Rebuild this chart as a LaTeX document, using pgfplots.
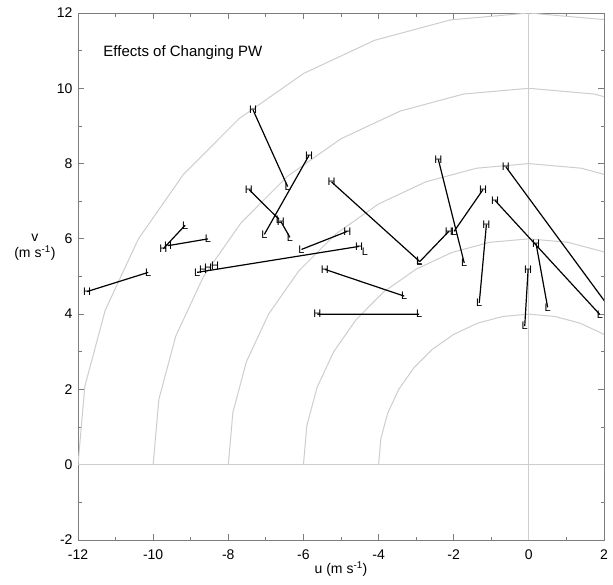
\documentclass[border=0pt]{standalone}
\usepackage{pgfplots}
\pgfplotsset{compat=1.18}
\usepackage{fontspec}
\setmainfont{Liberation Sans}
\definecolor{ring}{RGB}{205,205,205}
\definecolor{axgray}{RGB}{125,125,125}
\begin{document}
\begin{tikzpicture}
\begin{axis}[
  scale only axis, width=526bp, height=527bp,
  xmin=-12, xmax=2, ymin=-2, ymax=12,
  xtick={-12,-10,...,2}, ytick={-2,0,...,12},
  minor x tick num=1, minor y tick num=1,
  xtick pos=both, ytick pos=both,
  xticklabel pos=left, yticklabel pos=left,
  tick align=inside,
  major tick length=6bp, minor tick length=3.5bp,
  axis line style={axgray, line width=1bp},
  every tick/.style={axgray, line width=0.8bp},
  tick label style={font=\fontsize{14bp}{16bp}\selectfont, black},
  xticklabel style={yshift=-6bp},
  yticklabel style={xshift=-2bp},
  /pgf/number format/assume math mode=true,
  xlabel={u (m s\textsuperscript{-1})},
  xlabel style={font=\fontsize{14bp}{16bp}\selectfont, yshift=5bp},
  clip mode=individual,
]
% invisible frame for the page margins
\path (axis description cs:-0.1483,-0.0835) rectangle (axis description cs:1.0171,1.0247);
% range rings
\addplot[ring, line width=1bp] coordinates {(3.464,2) (3.064,2.571) (2.571,3.064) (2,3.464) (1.368,3.759) (0.695,3.939) (0,4) (-0.695,3.939) (-1.368,3.759) (-2,3.464) (-2.571,3.064) (-3.064,2.571) (-3.464,2) (-3.759,1.368) (-3.939,0.695) (-4,0)};
\addplot[ring, line width=1bp] coordinates {(3,5.196) (2.052,5.638) (1.042,5.909) (0,6) (-1.042,5.909) (-2.052,5.638) (-3,5.196) (-3.857,4.596) (-4.596,3.857) (-5.196,3) (-5.638,2.052) (-5.909,1.042) (-6,0)};
\addplot[ring, line width=1bp] coordinates {(2.736,7.518) (1.389,7.878) (0,8) (-1.389,7.878) (-2.736,7.518) (-4,6.928) (-5.142,6.128) (-6.128,5.142) (-6.928,4) (-7.518,2.736) (-7.878,1.389) (-8,0)};
\addplot[ring, line width=1bp] coordinates {(3.420,9.397) (1.736,9.848) (0,10) (-1.736,9.848) (-3.420,9.397) (-5,8.660) (-6.428,7.660) (-7.660,6.428) (-8.660,5) (-9.397,3.420) (-9.848,1.736) (-10,0)};
\addplot[ring, line width=1bp] coordinates {(4.104,11.276) (2.084,11.818) (0,12) (-2.084,11.818) (-4.104,11.276) (-6,10.392) (-7.713,9.193) (-9.193,7.713) (-10.392,6) (-11.276,4.104) (-11.818,2.084) (-12,0)};
\addplot[ring, line width=1bp] coordinates {(-12,0) (2,0)};
\addplot[ring, line width=1bp] coordinates {(0,-2) (0,12)};
% segment running off the right edge
\addplot[black, line width=1.2bp] coordinates {(-0.61,7.91) (2.3,3.96)};
% H -> L segments
\addplot[black, line width=1.2bp, empty line=jump,
  nodes near coords, point meta=explicit symbolic,
  nodes near coords style={anchor=center, inner sep=0pt, font=\fontsize{11bp}{12bp}\selectfont, black}]
  table[x=x, y=y, meta=lab] {
x y lab
-11.76 4.60 H
-10.13 5.11 L

-9.73 5.74 H
-9.15 6.36 L

-9.60 5.82 H
-8.54 6.00 L

-7.34 9.42 H
-6.42 7.39 L

-5.85 8.22 H
-7.04 6.12 L

-7.45 7.31 H
-6.65 6.52 L

-6.60 6.46 H
-6.36 6.04 L

-4.52 5.80 H
-8.83 5.11 L

-8.35 5.29 H

-8.67 5.19 H

-8.54 5.24 H

-4.36 5.66 L

-4.83 6.20 H
-6.05 5.72 L

-5.25 7.51 H
-2.92 5.41 L

-5.43 5.19 H
-3.32 4.48 L

-5.63 4.00 H
-2.92 4.00 L

-2.41 8.11 H
-1.72 5.36 L

-2.13 6.20 H
-2.91 5.39 L

-1.22 7.31 H
-1.99 6.20 L

-1.13 6.38 H
-1.32 4.30 L

-0.61 7.91 H

-0.90 7.02 H
1.89 3.99 L

0.19 5.88 H
0.50 4.18 L

-0.02 5.19 H
-0.11 3.68 L
};
\node[anchor=west, inner sep=0pt, font=\fontsize{15bp}{17bp}\selectfont] at (axis description cs:0.048,0.925) {Effects of Changing PW};
\node[align=center, font=\fontsize{14bp}{16bp}\selectfont, inner sep=0pt] at (axis description cs:-0.082,0.556) {v\\(m s\textsuperscript{-1})};
\end{axis}
\end{tikzpicture}
\end{document}
